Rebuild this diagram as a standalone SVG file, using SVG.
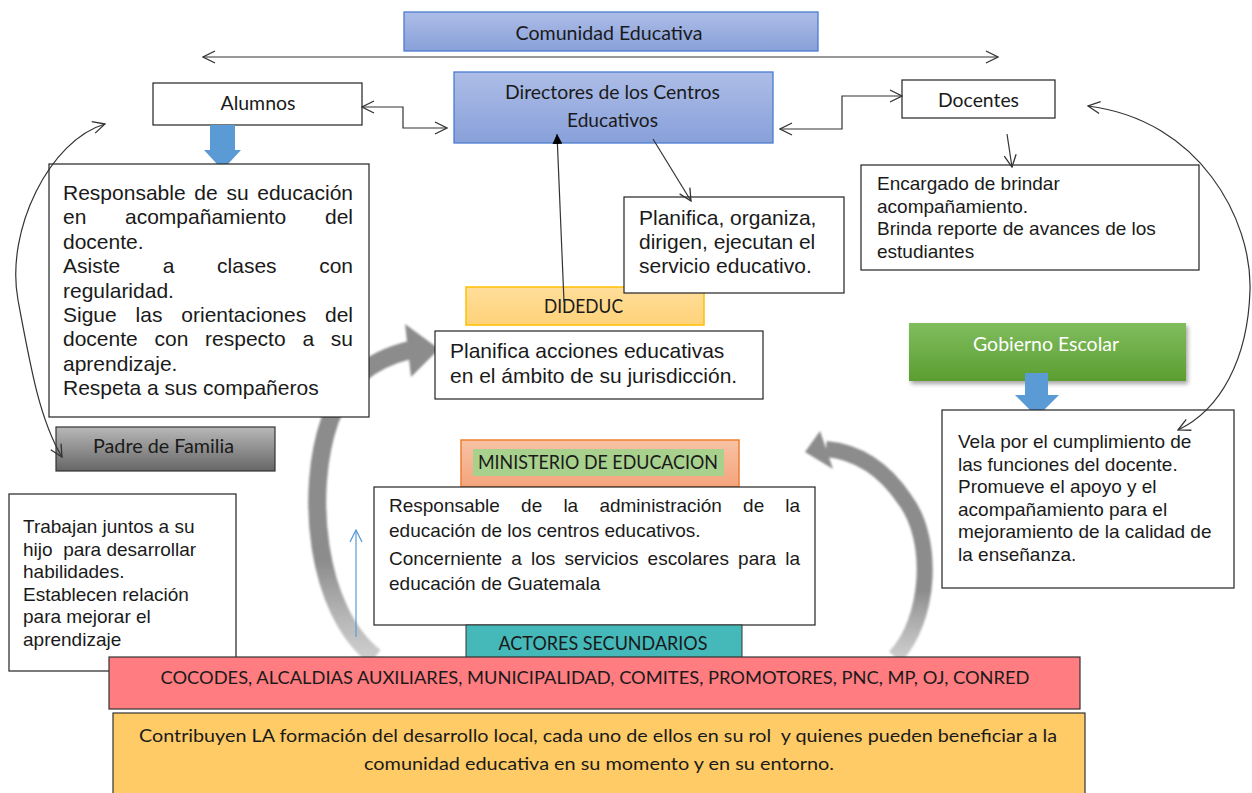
<svg xmlns="http://www.w3.org/2000/svg" width="1252" height="793" viewBox="0 0 1252 793">
<defs>
  <linearGradient id="gBlue" x1="0" y1="0" x2="0" y2="1"><stop offset="0" stop-color="#adbde7"/><stop offset="1" stop-color="#88a0d9"/></linearGradient>
  <linearGradient id="gGray" x1="0" y1="0" x2="0" y2="1"><stop offset="0" stop-color="#b8b8b8"/><stop offset="1" stop-color="#666"/></linearGradient>
  <linearGradient id="gGreen" x1="0" y1="0" x2="0" y2="1"><stop offset="0" stop-color="#80bd5e"/><stop offset="1" stop-color="#5c9d31"/></linearGradient>
  <linearGradient id="gOrange" x1="0" y1="0" x2="0" y2="1"><stop offset="0" stop-color="#ffde9a"/><stop offset="1" stop-color="#ffd27a"/></linearGradient>
  <linearGradient id="gSalmon" x1="0" y1="0" x2="0" y2="1"><stop offset="0" stop-color="#f8c2a5"/><stop offset="1" stop-color="#f4a47c"/></linearGradient>
  <linearGradient id="gBandL" gradientUnits="userSpaceOnUse" x1="0" y1="660" x2="0" y2="560"><stop offset="0" stop-color="#a8a8a8" stop-opacity="0.55"/><stop offset="1" stop-color="#8c8c8c"/></linearGradient>
  <linearGradient id="gBandR" gradientUnits="userSpaceOnUse" x1="0" y1="660" x2="0" y2="590"><stop offset="0" stop-color="#a8a8a8" stop-opacity="0.55"/><stop offset="1" stop-color="#8c8c8c"/></linearGradient>
  <marker id="open" viewBox="0 0 14 14" refX="13" refY="7" markerWidth="14" markerHeight="14" markerUnits="userSpaceOnUse" orient="auto-start-reverse">
    <path d="M1,1 L13,7 L1,13" fill="none" stroke="#333" stroke-width="1.3"/>
  </marker>
  <marker id="openBlue" viewBox="0 0 14 14" refX="13" refY="7" markerWidth="14" markerHeight="14" markerUnits="userSpaceOnUse" orient="auto-start-reverse">
    <path d="M1,1 L13,7 L1,13" fill="none" stroke="#5b9bd5" stroke-width="1.3"/>
  </marker>
  <marker id="solid" viewBox="0 0 10 10" refX="10" refY="5" markerWidth="10" markerHeight="10" markerUnits="userSpaceOnUse" orient="auto">
    <path d="M0,0 L10,5 L0,10 z" fill="#000"/>
  </marker>
  <filter id="shadow" x="-10%" y="-20%" width="125%" height="150%"><feDropShadow dx="2" dy="3" stdDeviation="2" flood-color="#000" flood-opacity="0.35"/></filter>
  <filter id="soft" x="-10%" y="-10%" width="120%" height="120%"><feGaussianBlur stdDeviation="0.9"/></filter>
</defs>
<style>
  .box{fill:#fff;stroke:#222;stroke-width:1.2}
  .lbl{font-family:Lato,"Open Sans",sans-serif;font-size:19px;fill:#1a1a1a;text-anchor:middle}
  .body{font-family:"Liberation Sans",Arial,sans-serif;fill:#1a1a1a}
  .b21{font-size:21px}
  .b19{font-size:19px}
  .end{text-anchor:end}
  .conn{fill:none;stroke:#333;stroke-width:1.2}
  .blk{fill:#5b9bd5}
</style>

<!-- gray cycle arrows (behind) -->
<g id="ciclo-izquierdo" filter="url(#soft)">
  <path d="M375,657 C315,610 305,490 330,420 C345,380 370,360 410,350" fill="none" stroke="url(#gBandL)" stroke-width="18"/>
  <polygon points="405,324 439,349 411,377" fill="#8c8c8c"/>
</g>
<g id="ciclo-derecho" filter="url(#soft)">
  <path d="M895,657 C930,620 935,540 905,500 C885,470 860,452 826,449" fill="none" stroke="url(#gBandR)" stroke-width="16"/>
  <polygon points="805,452 820,431 833,469" fill="#8c8c8c"/>
</g>

<g id="comunidad">
  <rect x="404" y="12" width="414" height="39" fill="url(#gBlue)" stroke="#4a7bd0" stroke-width="1.3"/>
  <text class="lbl" x="609" y="40" textLength="187" lengthAdjust="spacingAndGlyphs">Comunidad Educativa</text>
</g>

<g id="alumnos">
  <rect class="box" x="153" y="83" width="209" height="42"/>
  <text class="lbl" x="258" y="110" textLength="75" lengthAdjust="spacingAndGlyphs">Alumnos</text>
</g>

<g id="flecha-alumnos">
  <polygon class="blk" points="210,125 235,125 235,150 241,150 222.5,170 204,150 210,150"/>
</g>

<g id="directores">
  <rect x="454" y="72" width="319" height="71" fill="url(#gBlue)" stroke="#4a7bd0" stroke-width="1.3"/>
  <text class="lbl" x="612.5" y="99" textLength="215" lengthAdjust="spacingAndGlyphs">Directores de los Centros</text>
  <text class="lbl" x="612.5" y="127" textLength="91" lengthAdjust="spacingAndGlyphs">Educativos</text>
</g>

<g id="docentes">
  <rect class="box" x="902" y="80" width="153" height="38"/>
  <text class="lbl" x="978.5" y="107" textLength="81" lengthAdjust="spacingAndGlyphs">Docentes</text>
</g>

<g id="alumnos-desc">
  <rect class="box" x="49" y="164" width="320" height="253"/>
  <text class="body b21"><tspan x="63" y="200">Responsable</tspan><tspan x="194.3" y="200">de</tspan><tspan x="226.4" y="200">su</tspan><tspan class="end" x="353" y="200">educación</tspan><tspan x="63" y="224.4">en</tspan><tspan x="125" y="224.4">acompañamiento</tspan><tspan class="end" x="353" y="224.4">del</tspan><tspan x="63" y="248.8">docente.</tspan><tspan x="63" y="273.2">Asiste</tspan><tspan x="162.8" y="273.2">a</tspan><tspan x="217.1" y="273.2">clases</tspan><tspan class="end" x="353" y="273.2">con</tspan><tspan x="63" y="297.6">regularidad.</tspan><tspan x="63" y="322">Sigue</tspan><tspan x="135.6" y="322">las</tspan><tspan x="181.3" y="322">orientaciones</tspan><tspan class="end" x="353" y="322">del</tspan><tspan x="63" y="346.4">docente</tspan><tspan x="154.5" y="346.4">con</tspan><tspan x="205.1" y="346.4">respecto</tspan><tspan x="302.4" y="346.4">a</tspan><tspan class="end" x="353" y="346.4">su</tspan><tspan x="63" y="370.8">aprendizaje.</tspan><tspan x="63" y="395.2">Respeta a sus compañeros</tspan></text>
</g>

<g id="padre">
  <rect x="56" y="427" width="219" height="44" fill="url(#gGray)" stroke="#333" stroke-width="1.2"/>
  <text class="lbl" x="163.5" y="453" textLength="141" lengthAdjust="spacingAndGlyphs">Padre de Familia</text>
</g>

<g id="padre-desc">
  <rect class="box" x="9" y="494" width="227" height="177"/>
  <text class="body b19" xml:space="preserve"><tspan x="23" y="533">Trabajan juntos a su</tspan><tspan x="23" y="555.5">hijo  para desarrollar</tspan><tspan x="23" y="578">habilidades.</tspan><tspan x="23" y="600.5">Establecen relación</tspan><tspan x="23" y="623">para mejorar el</tspan><tspan x="23" y="645.5">aprendizaje</tspan></text>
</g>

<g id="docentes-desc">
  <rect class="box" x="861" y="165" width="338" height="105"/>
  <text class="body b19"><tspan x="877" y="190">Encargado de brindar</tspan><tspan x="877" y="212.7">acompañamiento.</tspan><tspan x="877" y="235.3">Brinda reporte de avances de los</tspan><tspan x="877" y="258">estudiantes</tspan></text>
</g>

<g id="dideduc">
  <rect x="466" y="287" width="238" height="38" fill="url(#gOrange)" stroke="#ffc000" stroke-width="1.5"/>
  <text class="lbl" x="583.5" y="313" textLength="79" lengthAdjust="spacingAndGlyphs">DIDEDUC</text>
</g>

<g id="directores-desc">
  <rect class="box" x="624" y="197" width="220" height="96"/>
  <text class="body b21"><tspan x="639" y="225">Planifica, organiza,</tspan><tspan x="639" y="249">dirigen, ejecutan el</tspan><tspan x="639" y="273">servicio educativo.</tspan></text>
</g>

<g id="dideduc-desc">
  <rect class="box" x="435" y="331" width="328" height="68"/>
  <text class="body b21"><tspan x="450" y="358">Planifica acciones educativas</tspan><tspan x="450" y="383">en el ámbito de su jurisdicción.</tspan></text>
</g>

<g id="gobierno">
  <rect x="909" y="323" width="277" height="58" fill="url(#gGreen)" filter="url(#shadow)"/>
  <text class="lbl" x="1046" y="351" textLength="146" lengthAdjust="spacingAndGlyphs" style="fill:#fff">Gobierno Escolar</text>
</g>

<g id="flecha-gobierno">
  <polygon class="blk" points="1025,373 1048,373 1048,395 1059,395 1037,417 1015,395 1025,395"/>
</g>

<g id="gobierno-desc">
  <rect class="box" x="942" y="410" width="292" height="178"/>
  <text class="body b19"><tspan x="958" y="448">Vela por el cumplimiento de</tspan><tspan x="958" y="470.5">las funciones del docente.</tspan><tspan x="958" y="493">Promueve el apoyo y el</tspan><tspan x="958" y="515.5">acompañamiento para el</tspan><tspan x="958" y="538">mejoramiento de la calidad de</tspan><tspan x="958" y="560.5">la enseñanza.</tspan></text>
</g>

<g id="ministerio">
  <rect x="461" y="440" width="278" height="47" fill="url(#gSalmon)" stroke="#ed7d31" stroke-width="1.5"/>
  <rect x="473" y="449" width="251" height="27" fill="#a9d18e"/>
  <text class="lbl" x="598" y="469" textLength="240" lengthAdjust="spacingAndGlyphs">MINISTERIO DE EDUCACION</text>
</g>

<g id="ministerio-desc">
  <rect class="box" x="374" y="487" width="441" height="138"/>
  <text class="body b19"><tspan x="389" y="512">Responsable</tspan><tspan x="521.1" y="512">de</tspan><tspan x="563.4" y="512">la</tspan><tspan x="599.4" y="512">administración</tspan><tspan x="743.1" y="512">de</tspan><tspan class="end" x="800" y="512">la</tspan><tspan x="389" y="537">educación de los centros educativos.</tspan><tspan x="389" y="565">Concerniente</tspan><tspan x="511.2" y="565">a</tspan><tspan x="531" y="565">los</tspan><tspan x="564.5" y="565">servicios</tspan><tspan x="647.6" y="565">escolares</tspan><tspan x="738.1" y="565">para</tspan><tspan class="end" x="800" y="565">la</tspan><tspan x="389" y="590">educación de Guatemala</tspan></text>
</g>

<g id="actores">
  <rect x="466" y="625" width="276" height="33" fill="#45b9ba" stroke="#333" stroke-width="1"/>
  <text class="lbl" x="603" y="650" textLength="209" lengthAdjust="spacingAndGlyphs">ACTORES SECUNDARIOS</text>
</g>

<g id="cocodes">
  <rect x="109" y="657" width="971" height="52" fill="#ff7c80" stroke="#333" stroke-width="1.2"/>
  <text class="lbl" x="595" y="684" textLength="869" lengthAdjust="spacingAndGlyphs" style="font-size:17px">COCODES, ALCALDIAS AUXILIARES, MUNICIPALIDAD, COMITES, PROMOTORES, PNC, MP, OJ, CONRED</text>
</g>

<g id="contribuyen">
  <rect x="113" y="713" width="972" height="84" fill="#ffcb66" stroke="#333" stroke-width="1.2"/>
  <text class="lbl" x="598" y="742" textLength="918" lengthAdjust="spacingAndGlyphs" style="font-size:17.5px" xml:space="preserve">Contribuyen LA formación del desarrollo local, cada uno de ellos en su rol  y quienes pueden beneficiar a la</text>
  <text class="lbl" x="599" y="770" textLength="470" lengthAdjust="spacingAndGlyphs" style="font-size:17.5px">comunidad educativa en su momento y en su entorno.</text>
</g>

<g id="conectores">
  <path class="conn" d="M203,57 L998,57" marker-start="url(#open)" marker-end="url(#open)"/>
  <path class="conn" d="M362,107 L403,107 L403,128 L447,128" marker-start="url(#open)" marker-end="url(#open)"/>
  <path class="conn" d="M780,129 L842,129 L842,96 L902,96" marker-start="url(#open)" marker-end="url(#open)"/>
  <path class="conn" d="M1007,134 L1012,167" marker-end="url(#open)"/>
  <path class="conn" d="M653,139 L691,201" marker-end="url(#open)"/>
  <path class="conn" d="M564,302 L557,134" marker-end="url(#solid)"/>
  <path class="conn" d="M105,124 C50,140 5,230 18,300 C31,370 40,420 62,457" marker-start="url(#open)" marker-end="url(#open)"/>
  <path class="conn" d="M1088,106 C1200,120 1252,220 1250,290 C1248,360 1220,410 1178,430" marker-start="url(#open)" marker-end="url(#open)"/>
  <path d="M356,637 L356,530" fill="none" stroke="#5b9bd5" stroke-width="1.2" marker-end="url(#openBlue)"/>
</g>
</svg>
